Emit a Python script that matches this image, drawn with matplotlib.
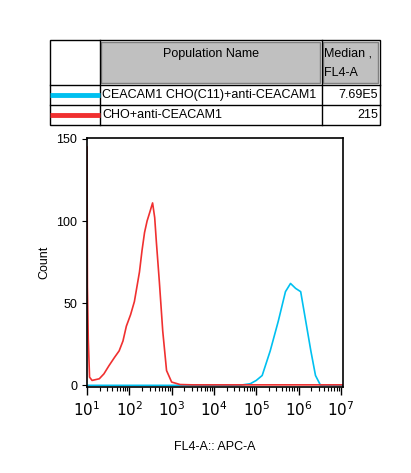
import matplotlib.pyplot as plt
from matplotlib.patches import Rectangle
import numpy as np

# x values in decades (log10 of FL4-A), y in counts
red_x = [1.0, 1.01, 1.03, 1.06, 1.12, 1.29, 1.4, 1.52, 1.65, 1.76, 1.85, 1.93, 2.03, 2.12, 2.18, 2.24, 2.3, 2.36, 2.42, 2.48, 2.55, 2.6, 2.64, 2.71, 2.79, 2.88, 3.0, 3.2, 3.5, 7.05]
red_y = [145, 60, 28, 5, 3, 4, 7, 12, 17, 21, 27, 36, 43, 51, 60, 69, 82, 93, 100, 105, 111, 102, 87, 63, 33, 9, 2, 0.5, 0.3, 0.3]
cyan_x = [1.0, 4.6, 4.86, 5.0, 5.14, 5.33, 5.52, 5.69, 5.81, 5.93, 6.05, 6.17, 6.29, 6.4, 6.52, 7.05]
cyan_y = [0, 0, 1, 3, 6, 21, 39, 57, 62, 59, 57, 39, 21, 6, 0, 0]

names = ["CEACAM1 CHO(C11)+anti-CEACAM1", "CHO+anti-CEACAM1"]
medians = ["7.69E5", "215"]
colors = ["#00c0f0", "#f03030"]

fig = plt.figure(figsize=(4.11, 4.73), dpi=100)
W, H = 411, 473
FONT = "Liberation Sans"

# table
tab = fig.add_axes([0, 0, 1, 1])
tab.set_xlim(0, W)
tab.set_ylim(H, 0)
tab.axis("off")
x0, x1, x2, x3 = 50, 100, 322, 380
y0, y1, y2, y3 = 40, 85, 105, 125
tab.add_patch(Rectangle((x0, y0), x3 - x0, y3 - y0, fill=False, lw=1, ec="black"))
tab.add_patch(Rectangle((x1 + 1, y0 + 2), x2 - x1 - 3, y1 - y0 - 4, fc="#c0c0c0", ec="#808080", lw=1))
tab.add_patch(Rectangle((x2 + 1, y0 + 2), x3 - x2 - 3, y1 - y0 - 4, fc="#c0c0c0", ec="#808080", lw=1))
for x in (x1, x2):
    tab.plot([x, x], [y0, y3], color="black", lw=1)
for y in (y1, y2):
    tab.plot([x0, x3], [y, y], color="black", lw=1)
tab.text((x1 + x2) / 2, 54, "Population Name", ha="center", va="center", fontsize=9, family=FONT)
tab.text(x2 + 2, 54, "Median ,", ha="left", va="center", fontsize=9, family=FONT)
tab.text(x2 + 2, 73, "FL4-A", ha="left", va="center", fontsize=9, family=FONT)
for i, (n, m, c) in enumerate(zip(names, medians, colors)):
    yc = (y1 + y2) / 2 + i * 20
    tab.plot([x0, x1], [yc, yc], color=c, lw=3.5, solid_capstyle="butt")
    tab.text(x1 + 2, yc, n, ha="left", va="center", fontsize=9, family=FONT)
    tab.text(x3 - 2, yc, m, ha="right", va="center", fontsize=9, family=FONT)

# histogram
ax = fig.add_axes([87 / W, 1 - 387 / H, (343 - 87) / W, (387 - 138) / H])
ax.plot(cyan_x, cyan_y, color=colors[0], lw=1.2)
ax.plot(red_x, red_y, color=colors[1], lw=1.2)
ax.set_xlim(1.0, 7.05)
ax.set_ylim(-1, 150.5)
ax.set_yticks([0, 50, 100, 150])
ax.set_xticks(range(1, 8))
ax.set_xticklabels([f"$10^{{{k}}}$" for k in range(1, 8)], fontsize=11, family=FONT)
minor = [d + np.log10(m) for d in range(1, 7) for m in range(2, 10)]
ax.set_xticks(minor, minor=True)
ax.tick_params(axis="x", which="major", length=6, width=1)
ax.tick_params(axis="x", which="minor", length=3, width=0.8)
ax.tick_params(axis="y", labelsize=9)
for lab in ax.get_yticklabels():
    lab.set_family(FONT)
for s in ax.spines.values():
    s.set_linewidth(1.2)
ax.set_ylabel("Count", fontsize=9, family=FONT)
ax.set_xlabel("FL4-A:: APC-A", fontsize=9, family=FONT, labelpad=16)

fig.savefig("out.png", dpi=100)
